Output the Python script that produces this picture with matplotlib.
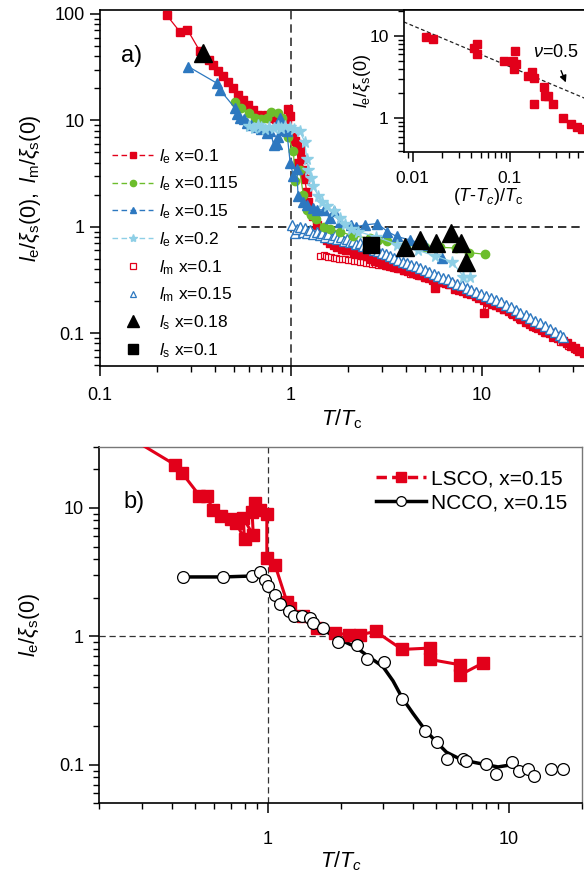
import matplotlib
matplotlib.use('Agg')
import matplotlib.pyplot as plt
from matplotlib.lines import Line2D
from matplotlib.ticker import LogLocator, NullFormatter

plt.rcParams['font.family'] = ['Liberation Sans', 'DejaVu Sans']
plt.rcParams['mathtext.fontset'] = 'custom'
plt.rcParams['mathtext.rm'] = 'Liberation Sans'
plt.rcParams['mathtext.it'] = 'Liberation Sans:italic'
plt.rcParams['mathtext.sf'] = 'Liberation Sans'

RED = '#e2001a'
GREEN = '#6cbd2c'
BLUE = '#2d78c0'
LBLUE = '#8ecfe6'

# ── panel a: l_e x=0.1 (filled red squares) ──────────────────────────────────
le010_t = [0.223, 0.262, 0.287, 0.334, 0.37, 0.392, 0.417, 0.442, 0.47, 0.499,
           0.53, 0.563, 0.598, 0.635, 0.674, 0.71, 0.746, 0.79, 0.83, 0.858,
           0.9, 0.95, 0.97, 0.99, 1.03, 1.05, 1.07, 1.09, 1.11, 1.14,
           1.16, 1.18, 1.21, 1.23, 1.26, 1.31, 1.36, 1.42, 1.48, 1.54,
           1.6, 1.67, 1.75, 1.84, 1.94, 2.04, 2.15, 2.27, 2.38, 2.49,
           2.62, 2.76, 2.9, 3.04, 3.2, 3.37, 3.54, 3.72, 3.92, 4.12,
           4.33, 4.55, 4.8, 5.05, 5.3, 5.56, 5.66, 5.85, 6.15, 6.45,
           6.8, 7.2, 7.55, 7.95, 8.35, 8.8, 9.25, 9.7, 10.2, 10.2,
           10.7, 11.3, 11.8, 12.4, 13.1, 13.8, 14.5, 15.2, 16.0, 16.9,
           17.8, 18.6, 19.6, 20.6, 21.6, 22.7, 23.9, 25.1, 26.4, 27.8,
           29.2, 30.7, 32.3, 34.0]
le010_v = [98, 68, 71, 44.5, 37, 33, 29, 26, 23, 20,
           17.4, 15.6, 14, 12.6, 11.3, 10.8, 11.2, 10.5, 10.3, 10.1,
           9.6, 10.2, 12.8, 10.9, 7.0, 6.4, 6.0, 4.0, 5.3, 4.3,
           3.4, 2.8, 2.1, 1.7, 1.45, 1.25, 1.04, 0.87, 0.81, 0.75,
           0.71, 0.68, 0.65, 0.62, 0.61, 0.6, 0.57, 0.55, 0.54, 0.53,
           0.5, 0.48, 0.47, 0.455, 0.44, 0.43, 0.42, 0.41, 0.39, 0.38,
           0.37, 0.36, 0.35, 0.34, 0.33, 0.32, 0.265, 0.31, 0.30, 0.295,
           0.29, 0.26, 0.255, 0.25, 0.24, 0.232, 0.222, 0.213, 0.205, 0.154,
           0.196, 0.188, 0.182, 0.176, 0.168, 0.16, 0.152, 0.144, 0.136, 0.128,
           0.122, 0.116, 0.111, 0.106, 0.103, 0.1, 0.094, 0.089, 0.085, 0.081,
           0.076, 0.072, 0.068, 0.065]

# l_m x=0.1 (open red squares)
lm010_t = [1.42, 1.48, 1.52, 1.57, 1.62, 1.67, 1.73, 1.79, 1.85, 1.92,
           1.99, 2.06, 2.13, 2.21, 2.29, 2.37, 2.46, 2.55, 2.65, 2.75,
           2.86, 2.97, 3.1, 3.25, 3.4, 3.6, 3.9, 4.2, 4.6, 5.0,
           5.5, 6.0, 6.6, 7.2, 7.9, 8.7, 9.6, 10.6, 11.7, 12.9,
           14.2, 15.7, 17.3, 19.0, 21.0, 23.2, 25.6, 28.2, 31.0]
lm010_v = [0.53, 0.54, 0.53, 0.52, 0.52, 0.51, 0.51, 0.5, 0.5, 0.5,
           0.49, 0.49, 0.48, 0.48, 0.47, 0.47, 0.46, 0.46, 0.45, 0.45,
           0.44, 0.44, 0.43, 0.42, 0.41, 0.4, 0.38, 0.36, 0.345, 0.33,
           0.31, 0.295, 0.28, 0.265, 0.25, 0.232, 0.215, 0.197, 0.18, 0.165,
           0.15, 0.136, 0.123, 0.112, 0.1, 0.09, 0.082, 0.075, 0.069]

# l_e x=0.115 (green circles)
le0115_t = [0.51, 0.55, 0.6, 0.65, 0.7, 0.75, 0.79, 0.86, 0.9, 0.97,
            1.03, 1.05, 1.11, 1.16, 1.21, 1.28, 1.35, 1.48, 1.6, 1.8,
            2.11, 2.6, 2.86, 3.17, 4.0, 5.03, 6.0, 7.35, 8.6, 10.4]
le0115_v = [14.8, 13, 11.7, 10.5, 10.3, 10.5, 12.1, 11.6, 10.5, 6.9,
            5.1, 2.7, 3.4, 2.0, 1.42, 1.3, 1.18, 1.0, 0.95, 0.9,
            0.82, 0.78, 0.75, 0.73, 0.68, 0.65, 0.64, 0.63, 0.57, 0.55]

# l_e x=0.15 (filled blue triangles)
le015_t = [0.29, 0.41, 0.425, 0.51, 0.52, 0.54, 0.57, 0.59, 0.62, 0.66,
           0.7, 0.75, 0.78, 0.81, 0.84, 0.86, 0.88, 0.91, 0.95, 0.99,
           1.03, 1.07, 1.09, 1.15, 1.21, 1.3, 1.36, 1.48, 1.6, 1.67,
           1.8, 2.07, 2.2, 2.44, 2.83, 3.2, 3.57, 4.2, 5.0, 6.2]
le015_v = [32, 22.3, 19.3, 13, 11.5, 10.5, 10.2, 9.4, 9.0, 8.7,
           8.3, 7.6, 8.0, 5.9, 6.0, 7.0, 10.5, 8.2, 8.0, 4.0,
           3.0, 3.5, 1.93, 1.7, 1.61, 1.5, 1.44, 1.44, 1.2, 1.39,
           1.1, 1.04, 1.0, 1.04, 1.07, 0.9, 0.81, 0.75, 0.68, 0.51]

# l_e x=0.2 (light blue stars)
le020_t = [0.6, 0.64, 0.67, 0.7, 0.73, 0.77, 0.81, 0.85, 0.89, 0.93,
           0.99, 1.04, 1.11, 1.18, 1.21, 1.23, 1.27, 1.31, 1.39, 1.46,
           1.54, 1.67, 1.8, 1.92, 2.05, 2.25, 2.8, 3.6, 4.6, 5.7,
           6.93, 8.0, 8.65]
le020_v = [8.8, 8.4, 9.0, 8.6, 8.3, 8.7, 8.4, 8.8, 8.5, 8.8,
           8.6, 8.3, 7.9, 6.3, 4.3, 3.4, 2.9, 2.4, 1.93, 1.7,
           1.55, 1.39, 1.2, 1.05, 0.95, 0.9, 0.8, 0.68, 0.6, 0.53,
           0.47, 0.34, 0.34]

# l_m x=0.15 (open blue triangles)
lm015_t = [1.01, 1.05, 1.08, 1.12, 1.15, 1.18, 1.22, 1.26, 1.31, 1.36,
           1.41, 1.46, 1.51, 1.57, 1.63, 1.69, 1.75, 1.82, 1.89, 1.96,
           2.04, 2.12, 2.2, 2.29, 2.38, 2.49, 2.6, 2.72, 2.85, 2.99,
           3.14, 3.3, 3.47, 3.65, 3.84, 4.05, 4.27, 4.5, 4.75, 5.0,
           5.3, 5.6, 5.9, 6.25, 6.6, 7.0, 7.4, 7.85, 8.3, 8.8,
           9.35, 9.9, 10.5, 11.1, 11.8, 12.5, 13.3, 14.1, 15.0, 15.9,
           16.9, 17.9, 19.0, 20.2, 21.4, 22.7, 24.1, 25.6, 26.5]
lm015_v = [1.04, 0.87, 0.95, 1.0, 0.9, 0.97, 0.88, 0.93, 0.86, 0.9,
           0.83, 0.87, 0.8, 0.86, 0.79, 0.84, 0.76, 0.8, 0.74, 0.77,
           0.72, 0.74, 0.69, 0.7, 0.66, 0.67, 0.63, 0.61, 0.59, 0.57,
           0.55, 0.53, 0.51, 0.49, 0.47, 0.455, 0.44, 0.425, 0.41, 0.39,
           0.375, 0.36, 0.345, 0.33, 0.32, 0.305, 0.29, 0.28, 0.265, 0.255,
           0.245, 0.235, 0.225, 0.215, 0.205, 0.194, 0.184, 0.174, 0.165, 0.156,
           0.147, 0.139, 0.131, 0.123, 0.116, 0.109, 0.102, 0.095, 0.091]

# l_s (black)
ls018_t = [0.348, 3.95, 4.73, 5.72, 6.9, 7.8, 8.2]
ls018_v = [43, 0.65, 0.75, 0.70, 0.87, 0.70, 0.47]
ls010_t = [2.62]
ls010_v = [0.68]

# inset: l_e vs (T-Tc)/Tc, with the nu=0.5 guide line
ins_t = [0.0138, 0.016, 0.043, 0.046, 0.046, 0.086, 0.107, 0.113, 0.115, 0.11,
         0.155, 0.17, 0.176, 0.177, 0.224, 0.227, 0.245, 0.28, 0.35, 0.42,
         0.49, 0.55]
ins_v = [9.6, 9.2, 7.2, 7.9, 6.0, 4.9, 4.9, 6.6, 4.5, 4.0,
         3.25, 3.6, 3.1, 1.5, 2.37, 1.84, 1.84, 1.5, 1.02, 0.85,
         0.78, 0.74]
guide_t = [0.0081, 0.58]
guide_v = [14.7, 1.76]

# ── panel b ───────────────────────────────────────────────────────────────────
lsco_t = [0.24, 0.412, 0.44, 0.52, 0.56, 0.59, 0.64, 0.70, 0.74, 0.80,
          0.79, 0.87, 0.86, 0.88, 0.93, 0.99, 0.99, 1.07, 1.2, 1.24,
          1.40, 1.6, 1.9, 2.16, 2.41, 2.8, 3.6, 4.7, 4.7, 6.26,
          6.26, 7.8]
lsco_v = [40, 21.7, 18.8, 12.5, 12.3, 9.7, 8.6, 8.2, 7.6, 5.7,
          8.4, 6.1, 9.3, 10.9, 9.7, 9.0, 4.08, 3.6, 1.85, 1.66,
          1.43, 1.16, 1.06, 1.03, 1.03, 1.09, 0.79, 0.81, 0.66, 0.6,
          0.50, 0.62]

ncco_t = [0.446, 0.654, 0.86, 0.93, 0.97, 1.0, 1.07, 1.12, 1.22, 1.28,
          1.38, 1.5, 1.54, 1.7, 1.96, 2.34, 2.57, 3.02, 3.61, 4.5,
          5.02, 5.53, 6.43, 6.63, 8.03, 8.8, 10.3, 11.0, 12.0, 12.7,
          14.9, 16.8]
ncco_v = [2.9, 2.9, 2.93, 3.15, 2.76, 2.45, 2.11, 1.77, 1.57, 1.43,
          1.43, 1.39, 1.27, 1.16, 0.9, 0.86, 0.66, 0.63, 0.325, 0.182,
          0.15, 0.11, 0.111, 0.107, 0.102, 0.085, 0.104, 0.09, 0.093, 0.082,
          0.093, 0.093]
# smoothed guide through the NCCO points
ncco_fit_t = [0.446, 0.654, 0.86, 0.95, 1.0, 1.1, 1.22, 1.4, 1.6, 1.9,
              2.3, 2.6, 3.0, 3.3, 3.61, 4.0, 4.5, 5.0, 5.5, 6.3,
              7.2, 8.0, 9.0, 10.3]
ncco_fit_v = [2.9, 2.9, 2.95, 2.85, 2.5, 2.0, 1.6, 1.42, 1.22, 0.98,
              0.83, 0.7, 0.58, 0.45, 0.33, 0.25, 0.185, 0.15, 0.125, 0.11,
              0.104, 0.1, 0.096, 0.1]

W, H = 584, 877


def rect(l, t, r, b):
    return [l / W, 1 - b / H, (r - l) / W, (b - t) / H]


def log_ticks(ax, xt, xl, yt, yl, size=13, xpad=6):
    ax.set_xscale('log')
    ax.set_yscale('log')
    ax.set_xticks(xt, labels=xl)
    ax.set_yticks(yt, labels=yl)
    for axis in (ax.xaxis, ax.yaxis):
        axis.set_minor_locator(LogLocator(base=10, subs=range(2, 10), numticks=20))
        axis.set_minor_formatter(NullFormatter())
    ax.tick_params(which='major', direction='out', length=7, width=1.1,
                   labelsize=size, pad=4)
    ax.tick_params(axis='x', which='major', pad=xpad)
    ax.tick_params(which='minor', direction='out', length=4, width=1.0)
    for s in ax.spines.values():
        s.set_linewidth(1.2)


fig = plt.figure(figsize=(W / 100, H / 100), dpi=100)

# ── panel a ───────────────────────────────────────────────────────────────────
ax = fig.add_axes(rect(100, 10, 584, 366))
log_ticks(ax, [0.1, 1, 10], ['0.1', '1', '10'],
          [0.1, 1, 10, 100], ['0.1', '1', '10', '100'], xpad=8)
ax.set_xlim(0.1, 34.2)
ax.set_ylim(0.049, 109)
ax.spines['right'].set_visible(False)

ax.axvline(1, color='#333333', ls=(0, (5, 3)), lw=1.2, zorder=1)
ax.plot([0.53, 40], [1, 1], color='#111111', ls=(0, (5, 3)), lw=1.2, zorder=1)

ax.plot(lm010_t, lm010_v, ls='none', marker='s', ms=4.5, mfc='white',
        mec=RED, mew=0.9, zorder=2)
ax.plot(le010_t, le010_v, color=RED, lw=0.9, marker='s', ms=6.2,
        mfc=RED, mec=RED, zorder=3)
ax.plot(lm015_t, lm015_v, ls='none', marker='^', ms=6.8, mfc='white',
        mec=BLUE, mew=1.0, zorder=4)
ax.plot(le0115_t, le0115_v, color=GREEN, lw=0.9, marker='o', ms=6,
        mfc=GREEN, mec=GREEN, zorder=5)
ax.plot(le015_t, le015_v, color=BLUE, lw=0.9, marker='^', ms=7,
        mfc=BLUE, mec=BLUE, zorder=6)
ax.plot(le020_t, le020_v, color=LBLUE, lw=0.9, marker='*', ms=8.5,
        mfc=LBLUE, mec=LBLUE, zorder=7)
ax.plot(ls018_t, ls018_v, ls='none', marker='^', ms=13, mfc='black',
        mec='black', zorder=8)
ax.plot(ls010_t, ls010_v, ls='none', marker='s', ms=11, mfc='black',
        mec='black', zorder=8)

dash = (0, (4, 2.5))
handles_a = [
    Line2D([], [], color=RED, ls=dash, lw=1, marker='s', ms=4.5, mfc=RED, mec=RED),
    Line2D([], [], color=GREEN, ls=dash, lw=1, marker='o', ms=4.5, mfc=GREEN, mec=GREEN),
    Line2D([], [], color=BLUE, ls=dash, lw=1, marker='^', ms=5, mfc=BLUE, mec=BLUE),
    Line2D([], [], color=LBLUE, ls=dash, lw=1, marker='*', ms=6, mfc=LBLUE, mec=LBLUE),
    Line2D([], [], ls='none', marker='s', ms=4, mfc='white', mec=RED, mew=0.9),
    Line2D([], [], ls='none', marker='^', ms=5, mfc='white', mec=BLUE, mew=0.9),
    Line2D([], [], ls='none', marker='^', ms=9, mfc='black', mec='black'),
    Line2D([], [], ls='none', marker='s', ms=7, mfc='black', mec='black'),
]
labels_a = [r'$l_{\rm e}$ x=0.1', r'$l_{\rm e}$ x=0.115', r'$l_{\rm e}$ x=0.15',
            r'$l_{\rm e}$ x=0.2', r'$l_{\rm m}$ x=0.1', r'$l_{\rm m}$ x=0.15',
            r'$l_{\rm s}$ x=0.18', r'$l_{\rm s}$ x=0.1']
ax.legend(handles_a, labels_a, loc='upper left', bbox_to_anchor=(0.017, 0.625),
          frameon=False, fontsize=12.5, handlelength=2.4, handletextpad=0.3,
          labelspacing=0.52, borderpad=0.2, borderaxespad=0)

ax.text(0.043, 0.87, 'a)', transform=ax.transAxes, fontsize=17,
        ha='left', va='center')
ax.set_xlabel(r'$T/T_{\rm c}$', fontsize=15.5)
ax.xaxis.set_label_coords(0.5, -0.115)
ax.set_ylabel(r'$l_{\rm e}/\xi_{\rm s}(0),\ l_{\rm m}/\xi_{\rm s}(0)$', fontsize=15.5)
ax.yaxis.set_label_coords(-0.118, 0.5)

# ── inset ─────────────────────────────────────────────────────────────────────
ins = fig.add_axes(rect(404, 10, 584, 151.7))
log_ticks(ins, [0.01, 0.1], ['0.01', '0.1'], [1, 10], ['1', '10'],
          size=12.5, xpad=7)
ins.set_xlim(0.00814, 0.577)
ins.set_ylim(0.394, 20.5)
ins.spines['right'].set_visible(False)
ins.plot(guide_t, guide_v, color='#222222', ls=(0, (3, 2)), lw=0.9)
ins.plot(ins_t, ins_v, ls='none', marker='s', ms=5.5, mfc=RED, mec=RED)
ins.annotate('', xy=(0.385, 2.53), xytext=(0.327, 4.06),
             arrowprops=dict(arrowstyle='-|>', color='black', lw=1,
                             mutation_scale=10))
ins.text(0.172, 6.35, r'$\nu$=0.5', fontsize=13, ha='left', va='center')
ins.set_xlabel(r'$(T$-$T_{c})/T_{\rm c}$', fontsize=13)
ins.xaxis.set_label_coords(0.47, -0.245)
ins.set_ylabel(r'$l_{\rm e}/\xi_{\rm s}(0)$', fontsize=13)
ins.yaxis.set_label_coords(-0.172, 0.5)

# ── panel b ───────────────────────────────────────────────────────────────────
bx = fig.add_axes(rect(99.3, 446.7, 581.7, 803.3))
log_ticks(bx, [1, 10], ['1', '10'], [0.1, 1, 10], ['0.1', '1', '10'], xpad=13)
bx.set_xlim(0.2, 20)
bx.set_ylim(0.05, 30)
for s in ('top', 'right'):
    bx.spines[s].set_color('#777777')
    bx.spines[s].set_linewidth(1.0)

bx.axvline(1, color='#333333', ls=(0, (5, 3)), lw=0.9, zorder=1)
bx.axhline(1, color='#333333', ls=(0, (5, 3)), lw=0.9, zorder=1)

bx.plot(lsco_t, lsco_v, color=RED, lw=2.2, marker='s', ms=9,
        mfc=RED, mec=RED, zorder=3)
bx.plot(ncco_fit_t, ncco_fit_v, color='black', lw=2.5, zorder=2)
bx.plot(ncco_t, ncco_v, ls='none', marker='o', ms=8.5, mfc='white',
        mec='black', mew=0.9, zorder=4)

handles_b = [
    Line2D([], [], color=RED, lw=2.5, ls=(0, (3, 1.5)), marker='s', ms=7,
           mfc=RED, mec=RED),
    Line2D([], [], color='black', lw=2.5, marker='o', ms=7, mfc='white',
           mec='black', mew=0.9),
]
bx.legend(handles_b, ['LSCO, x=0.15', 'NCCO, x=0.15'], loc='upper right',
          bbox_to_anchor=(0.995, 0.972), frameon=False, fontsize=15,
          handlelength=2.4, handletextpad=0.2, labelspacing=0.25,
          borderpad=0.5, borderaxespad=0.1)

bx.text(0.05, 0.845, 'b)', transform=bx.transAxes, fontsize=17,
        ha='left', va='center')
bx.set_xlabel(r'$T/T_{c}$', fontsize=15.5)
bx.xaxis.set_label_coords(0.5, -0.13)
bx.set_ylabel(r'$l_{\rm e}/\xi_{\rm s}(0)$', fontsize=15.5)
bx.yaxis.set_label_coords(-0.119, 0.5)

fig.savefig('out.png', dpi=100)
